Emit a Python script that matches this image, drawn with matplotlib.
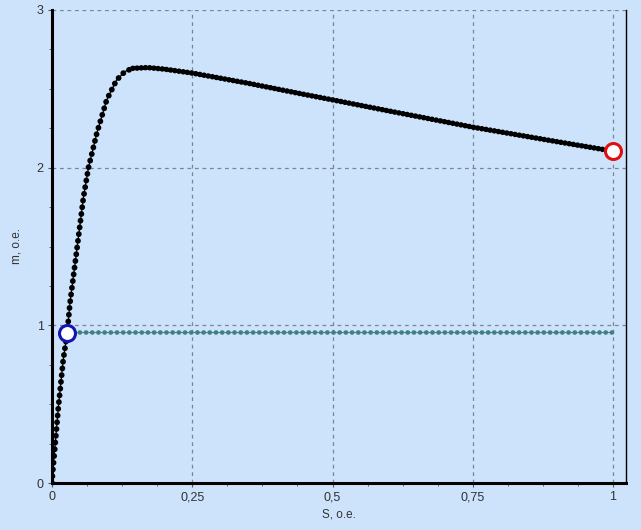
import numpy as np
import matplotlib.pyplot as plt
from matplotlib.ticker import MultipleLocator, FuncFormatter

# mechanical characteristic m(S)
s_mot = [0.0, 0.001, 0.0053, 0.0113, 0.020, 0.027, 0.032, 0.045, 0.056, 0.065,
         0.080, 0.0975, 0.115, 0.130, 0.144]
m_mot = [0.0, 0.06, 0.23, 0.48, 0.78, 0.95, 1.14, 1.50, 1.81, 2.00,
         2.22, 2.43, 2.555, 2.61, 2.63]
s_mot2 = [0.144, 0.17, 0.20, 0.25, 0.35, 0.442, 0.50, 0.60, 0.75, 0.90, 1.0]
m_mot2 = [2.63, 2.635, 2.625, 2.60, 2.535, 2.47, 2.43, 2.36, 2.257, 2.165, 2.105]

# load torque
s_load = [0.027, 1.0]
m_load = [0.955, 0.955]

# operating point and start point
s_work, m_work = 0.027, 0.952
s_start, m_start = 1.0, 2.105

bg = '#cde2fb'
plt.rcParams['font.family'] = ['Liberation Sans', 'DejaVu Sans']

fig = plt.figure(figsize=(6.41, 5.30), dpi=100, facecolor=bg)
ax = fig.add_axes([52/641, 47/530, 574/641, 473/530], facecolor=bg)

ax.plot(s_load, m_load, color='#4b8a8a', lw=0.8, zorder=3)
ax.plot(s_load, m_load, color='#3f8080', lw=3.4, linestyle=(0, (0.01, 1.3)),
        dash_capstyle='round', zorder=3)

ax.plot(s_mot, m_mot, color='black', lw=4.2, linestyle=(0, (0.01, 1.15)),
        dash_capstyle='round', zorder=4)
ax.plot(s_mot, m_mot, color='black', lw=0.9, zorder=4)
ax.plot(s_mot2, m_mot2, color='black', lw=4.0, linestyle=(0, (0.01, 0.75)),
        dash_capstyle='round', zorder=4)
ax.plot(s_mot2, m_mot2, color='black', lw=1.8, zorder=4)

ax.plot([s_work], [m_work], 'o', ms=11.5, mfc='white', mec='#1414b4', mew=2.2, zorder=5)
ax.plot([s_start], [m_start], 'o', ms=11.5, mfc='white', mec='#e01010', mew=2.2, zorder=5)

ax.set_xlim(0, 574/561)
ax.set_ylim(0, 3)
ax.xaxis.set_major_locator(MultipleLocator(0.25))
ax.xaxis.set_minor_locator(MultipleLocator(0.0625))
ax.yaxis.set_major_locator(MultipleLocator(1))
ax.yaxis.set_minor_locator(MultipleLocator(0.25))
fmt = FuncFormatter(lambda v, p: ('%g' % v).replace('.', ','))
ax.xaxis.set_major_formatter(fmt)
ax.yaxis.set_major_formatter(fmt)

ax.grid(True, which='major', color='#7a8594', lw=0.9, linestyle=(0, (3, 3)))
ax.tick_params(which='both', direction='out', color='#555555', labelsize=9,
               labelcolor='#333333')
ax.tick_params(which='major', length=3, pad=3)
ax.tick_params(which='minor', length=2.5)

ax.spines['top'].set_visible(False)
ax.spines['left'].set_linewidth(2.2)
ax.spines['bottom'].set_linewidth(2.2)
ax.spines['right'].set_linewidth(1.0)

ax.set_xlabel('S, o.e.', fontsize=8.5, color='#333333', labelpad=4)
ax.set_ylabel('m, o.e.', fontsize=8.5, color='#333333', labelpad=10)

fig.savefig('out.png', dpi=100, facecolor=bg)
